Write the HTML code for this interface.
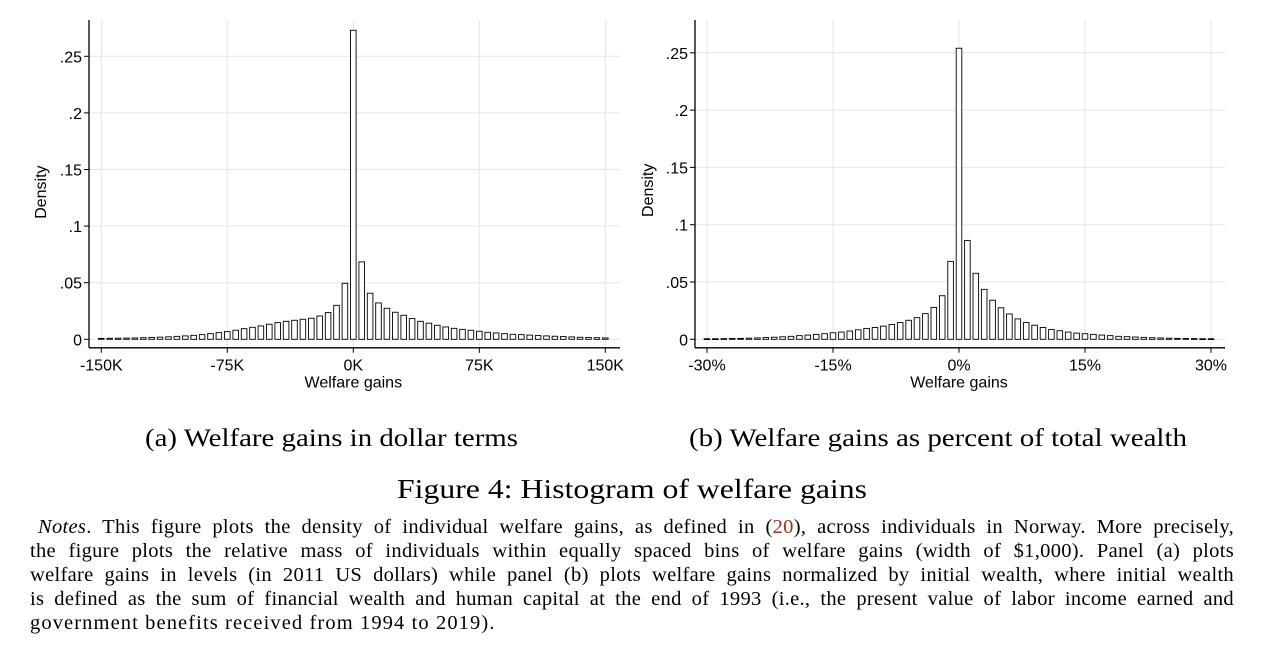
<!DOCTYPE html>
<html><head><meta charset="utf-8"><style>
body{margin:0;background:#fff;width:1268px;height:652px;overflow:hidden;position:relative}
svg{position:absolute;left:0;top:0}
.t{font-family:"Liberation Sans",Arial,sans-serif;font-size:16px;fill:#000}
.cap{font-family:"Liberation Serif",serif;font-size:25px;fill:#000}
.notes{position:absolute;left:30px;top:515px;width:1204px;font-family:"Liberation Serif",serif;font-size:20.5px;line-height:24px;color:#000;letter-spacing:0.3px}
.notes div{text-align:justify;text-align-last:justify;white-space:nowrap;height:24px}
.notes div.last{text-align-last:left;letter-spacing:1.1px}
</style></head><body>
<svg id="s" width="1268" height="652" xmlns="http://www.w3.org/2000/svg"></svg>
<div class="notes">
<div style="padding-left:8px;white-space:normal"><i>Notes</i>. This figure plots the density of individual welfare gains, as defined in (<span style="color:#a03020">20</span>), across individuals in Norway. More precisely,</div>
<div style="white-space:normal">the figure plots the relative mass of individuals within equally spaced bins of welfare gains (width of $1,000). Panel (a) plots</div>
<div style="white-space:normal">welfare gains in levels (in 2011 US dollars) while panel (b) plots welfare gains normalized by initial wealth, where initial wealth</div>
<div style="white-space:normal">is defined as the sum of financial wealth and human capital at the end of 1993 (i.e., the present value of labor income earned and</div>
<div class="last">government benefits received from 1994 to 2019).</div>
</div>
<script>
var s=document.getElementById('s'),h='';
function panel(ax,x0,x1,y0,yPer,top,right,xlabels,L,R,peak,ylab){
 var yt=['0','.05','.1','.15','.2','.25'],yb=y0+8.5;
 for(var i=0;i<6;i++){var y=y0-i*yPer;h+='<line x1="'+ax+'" x2="'+right+'" y1="'+y+'" y2="'+y+'" stroke="#e6e6e6" stroke-width="1"/>';
  h+='<line x1="'+(ax-5)+'" x2="'+ax+'" y1="'+y+'" y2="'+y+'" stroke="#000"/>';
  h+='<text class="t" x="'+(ax-7)+'" y="'+(y+6)+'" text-anchor="end">'+yt[i]+'</text>';}
 for(var i=0;i<5;i++){var x=x0+(x1-x0)*i/4;h+='<line x1="'+x+'" x2="'+x+'" y1="'+top+'" y2="'+yb+'" stroke="#e6e6e6"/>';
  h+='<line x1="'+x+'" x2="'+x+'" y1="'+yb+'" y2="'+(yb+5)+'" stroke="#000"/>';
  h+='<text class="t" x="'+x+'" y="'+(y0+31)+'" text-anchor="middle">'+xlabels[i]+'</text>';}
 h+='<line x1="'+ax+'" x2="'+ax+'" y1="'+top+'" y2="'+yb+'" stroke="#000" stroke-width="1.3"/>';
 h+='<line x1="'+ax+'" x2="'+right+'" y1="'+yb+'" y2="'+yb+'" stroke="#000" stroke-width="1.3"/>';
 h+='<text class="t" x="'+((x0+x1)/2)+'" y="'+(y0+48)+'" text-anchor="middle">Welfare gains</text>';
 h+='<text class="t" transform="translate('+ylab+','+(y0-yPer*2.6)+') rotate(-90)" text-anchor="middle">Density</text>';
 var step=(x1-x0)/60;
 for(var k=-30;k<=30;k++){
  var v;
  if(k==0)v=peak;else{var arr=k<0?L:R,i=Math.abs(k)-1;
   if(i<arr.length)v=arr[i];else{var last=arr[arr.length-1],n=i-arr.length+1;v=Math.max(0.0006,last*Math.pow(0.9,n));}}
  var cx=x0+(k+30)*step,hh=v/0.05*yPer;
  h+='<rect x="'+(cx-2.8)+'" y="'+(y0-hh)+'" width="5.6" height="'+Math.max(hh,0.8)+'" fill="#fff" stroke="#000" stroke-width="0.9"/>';
 }
}
panel(89,101.3,605.3,339.3,56.6,20,620,['-150K','-75K','0K','75K','150K'],
 [.0495,.030,.0236,.0206,.0186,.0177,.0168,.0159,.0147,.0133,.0118,.0106,.0094,.008,.0068,.0059,.005,.0041,.0035,.003,.0026,.0022,.0019,.0016,.0014,.0012,.0011,.001,.0009,.0008],
 [.0684,.0407,.0321,.0274,.0239,.0212,.0183,.0159,.0142,.0124,.0109,.0097,.0088,.008,.0071,.0062,.0056,.005,.0044,.0041,.0037,.0033,.003,.0027,.0024,.0021,.0018,.0016,.0014,.0012],
 .273,46);
panel(695,707,1211,339.3,57.3,20,1225,['-30%','-15%','0%','15%','30%'],
 [.068,.038,.0278,.0224,.0189,.0166,.0146,.0129,.0115,.0103,.0095,.0083,.0072,.0063,.0057,.0049,.0043,.0037,.0032,.0026,.0022,.0018,.0015,.0012,.001,.0008,.0007,.0006,.0005,.0005],
 [.0863,.0576,.0436,.0341,.0275,.0221,.0178,.0146,.0123,.0103,.0086,.0075,.0063,.0054,.0049,.0043,.0037,.0032,.0026,.0023,.002,.0017,.0014,.0012,.001,.0008,.0007,.0006,.0005,.0005],
 .254,653);
h+='<text class="cap" x="145" y="446" textLength="373" lengthAdjust="spacingAndGlyphs">(a) Welfare gains in dollar terms</text>';
h+='<text class="cap" x="689" y="446" textLength="498" lengthAdjust="spacingAndGlyphs">(b) Welfare gains as percent of total wealth</text>';
h+='<text class="cap" x="397" y="498" style="font-size:27px" textLength="470" lengthAdjust="spacingAndGlyphs">Figure 4: Histogram of welfare gains</text>';
s.innerHTML=h;
</script>
</body></html>
